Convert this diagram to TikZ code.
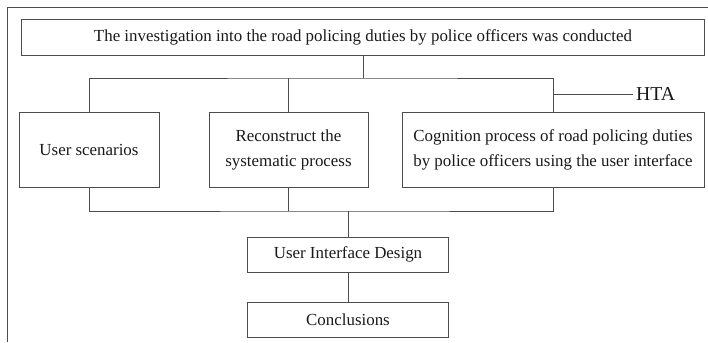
\documentclass[tikz,border=0pt]{standalone}
\usepackage{fontspec}
\setmainfont{Liberation Serif}
\usetikzlibrary{positioning}

\tikzset{
    box/.style={draw, black!70, text=black!90, line width=0.6pt, inner sep=0pt, align=center,
        font=\fontsize{12}{17.8}\selectfont},
    link/.style={black!70, line width=0.6pt}
}

\begin{document}
\begin{tikzpicture}[x=0.71pt,y=-0.71pt]

    \useasboundingbox (0,0) rectangle (708,342);
    \draw[link] (7,342) -- (7,7) -- (708,7);

    \node (inv) [box, minimum width=683*0.71pt, minimum height=36*0.71pt] at (363,37) {The investigation into the road policing duties by police officers was conducted};
    \node (us) [box, minimum width=140*0.71pt, minimum height=75*0.71pt] at (89,149.5) {User scenarios};
    \node (rsp) [box, minimum width=159*0.71pt, minimum height=75*0.71pt] at (288.5,149.5) {Reconstruct the\\systematic process};
    \node (cog) [box, minimum width=302*0.71pt, minimum height=75*0.71pt] at (553,149.5) {Cognition process of road policing duties\\by police officers using the user interface};
    \node (uid) [box, minimum width=201*0.71pt, minimum height=35*0.71pt] at (348,254.5) {User Interface Design};
    \node (con) [box, minimum width=201*0.71pt, minimum height=35*0.71pt] at (348,319.5) {Conclusions};
    \node (hta) [anchor=west, inner sep=2pt, text=black!90, font=\fontsize{14}{16}\selectfont] at (633,94) {HTA};

    \coordinate (up) at (inv.south |- 0,78);
    \coordinate (low) at (uid.north |- 0,211);

    % tree above and below the three tasks
    \draw[link] (inv.south) -- (up);
    \draw[link] (us.north) |- (up) -| (cog.north);
    \draw[link] (rsp.north) -- (rsp.north |- up);
    \draw[link] (cog.north |- hta) -- (hta.west);
    \draw[link] (us.south) |- (low) -| (cog.south);
    \draw[link] (rsp.south) -- (rsp.south |- low);
    \draw[link] (low) -- (uid.north);
    \draw[link] (uid) -- (con);

\end{tikzpicture}
\end{document}
